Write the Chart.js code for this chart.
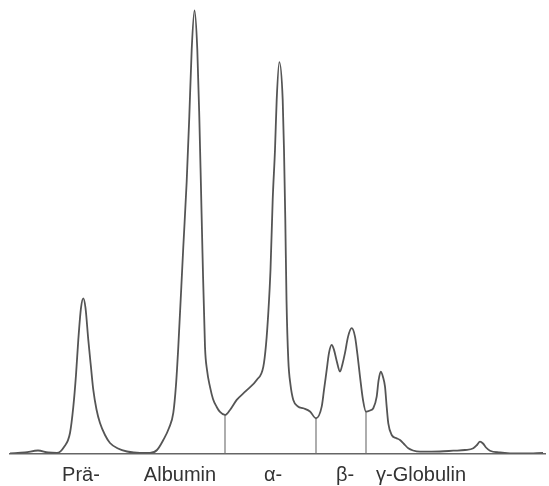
<!DOCTYPE html>
<html>
<head>
<meta charset="utf-8">
<script src="https://cdn.jsdelivr.net/npm/chart.js@4/dist/chart.umd.min.js"></script>
<style>
  body { margin: 0; background: #fff; }
  #wrap { width: 549px; height: 486px; }
</style>
</head>
<body>
<div id="wrap"><canvas id="elpho" width="549" height="486"></canvas></div>
<script>
    // migration distance and density of the scan
    var migration = [10, 25, 38, 48, 57, 64, 70, 73.3, 76, 78.3, 81, 83.3, 85.5, 88.3, 91, 93.3, 96.5, 100, 105, 110,
      118, 127, 140, 150, 157, 163.3, 169, 173.3, 176, 178.3, 183.3, 186.7, 189.3, 191.7, 194.5, 197.3, 199.3, 201, 202.5,
      205, 207, 210, 213, 216.7, 220, 225, 230, 236.7, 246, 256.7, 263.3, 266, 268.3, 270.5, 272.7, 275, 276.7, 279.3, 282.7,
      284, 285.3, 286.5, 288.3, 290.5, 293.3, 298, 303.3, 310, 316, 321.7, 324, 326.7, 329, 331.7, 334, 336.7, 340, 342.5, 345,
      348, 351.7, 355, 357.5, 360, 363, 366, 370, 373.3, 376.7, 378.5, 380.7, 383, 385, 386.7, 388.3, 391.7, 396, 400,
      404, 408.3, 413, 420, 440, 453.3, 465, 473.3, 477, 480, 483, 486, 490, 500, 510, 525, 543];
    var density = [0.2, 1, 3, 1, 0.5, 6.5, 20.5, 46.5, 78.5, 113.5, 145.5, 155, 145.5, 113.5, 86, 63.5, 44, 30.5, 18.5, 10.5,
      5, 2, 0.5, 0.5, 3.5, 13.5, 25.5, 40.5, 68.5, 106.5, 206.5, 272, 336.5, 403.5, 442.5, 403.5, 336.5, 265, 200,
      106.5, 83.5, 66.5, 54.5, 46.5, 41.5, 38.5, 43.5, 53.5, 62.5, 73.5, 86.5, 108.5, 140.5, 183.5, 253.5, 303.5, 353.5, 391, 353.5,
      303.5, 233.5, 153.5, 93.5, 68.5, 53.5, 47, 45.2, 42, 35.2, 46.8, 63.5, 83.5, 100.5, 108.5, 103.5, 92.5, 81.8, 89.5, 100.5,
      116.5, 125.2, 116.8, 98.5, 76.8, 53.5, 41.8, 43, 45.2, 56.8, 72.5, 81.8, 76.5, 66.8, 46.5, 30.2, 18.5, 15.5, 13.5,
      9.5, 5.2, 3, 1.8, 2, 2.8, 3.5, 5.2, 8.5, 11.8, 10, 6, 2.8, 1, 0.2, 0, 0.7];

    // fraction borders (x) and curve height where they meet it
    var cutX = [225, 316, 366];
    var cutH = [38.5, 35.2, 41.8];

    var fractionNames = ['Prä-', 'Albumin', 'α-', 'β-', 'γ-Globulin'];
    var fractionPos = [81, 180, 273, 345, 421];

    var curve = migration.map(function (x, i) { return { x: x, y: density[i] }; });

    var datasets = [{
      data: curve,
      borderColor: '#555555',
      borderWidth: 1.8,
      pointRadius: 0,
      cubicInterpolationMode: 'monotone',
      fill: false
    }];
    cutX.forEach(function (x, i) {
      datasets.push({
        data: [{ x: x, y: 0 }, { x: x, y: cutH[i] }],
        borderColor: '#777777',
        borderWidth: 1.2,
        pointRadius: 0
      });
    });

    var ctx = document.getElementById('elpho');
    var chart = new Chart(ctx, {
      type: 'line',
      data: { datasets: datasets },
      options: {
        responsive: false,
        animation: false,
        devicePixelRatio: 1,
        layout: { padding: { left: 10, right: 4, top: 0, bottom: 0 } },
        plugins: { legend: { display: false }, tooltip: { enabled: false } },
        scales: {
          x: {
            type: 'linear',
            min: 10,
            max: 545,
            grid: { display: false, drawTicks: false, tickLength: 0 },
            border: { display: true, color: '#666666', width: 1.5 },
            afterBuildTicks: function (axis) {
              axis.ticks = fractionPos.map(function (v) { return { value: v }; });
            },
            afterFit: function (axis) {
              axis.height = 32.5;
            },
            ticks: {
              autoSkip: false,
              maxRotation: 0,
              padding: 10,
              color: '#333333',
              font: { family: 'Liberation Sans', size: 20 },
              callback: function (v, i) { return fractionNames[i]; }
            }
          },
          y: {
            display: false,
            min: 0,
            max: 453
          }
        }
      }
    });
</script>
</body>
</html>
